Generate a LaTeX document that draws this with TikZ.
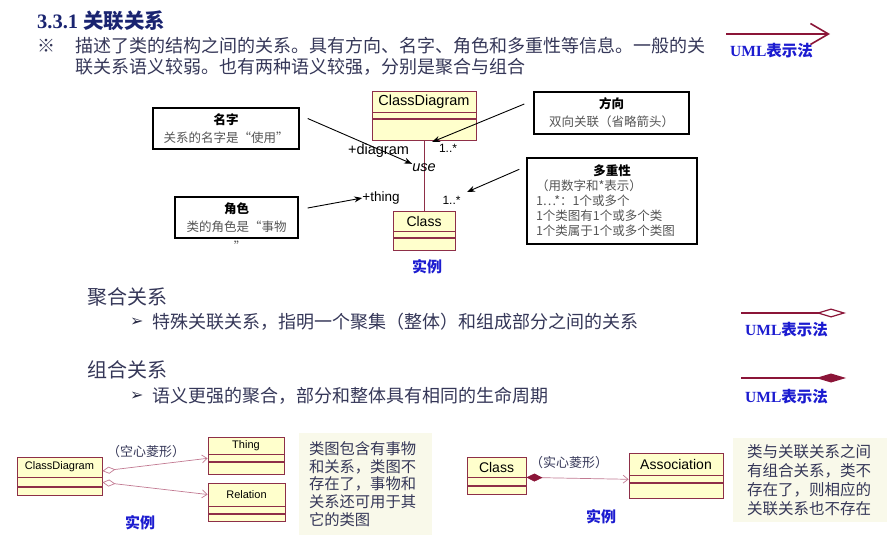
\documentclass[tikz,border=0pt]{standalone}
\usepackage{fontspec}
\setmainfont{Liberation Serif}
\setsansfont{Liberation Sans}
\newfontfamily\cjk{Noto Sans CJK SC}
\newfontfamily\sym{DejaVu Sans}
\usetikzlibrary{arrows.meta,positioning}

\definecolor{slideink}{HTML}{353758}
\definecolor{slidetitle}{HTML}{1A2470}
\definecolor{umlred}{HTML}{8E2F48}
\definecolor{umlpink}{HTML}{C27A92}
\definecolor{umlfill}{HTML}{FFFFCC}
\definecolor{notation}{HTML}{8B1538}
\definecolor{demoblue}{HTML}{1C1CD0}
\definecolor{memofill}{HTML}{F9F9EA}
\definecolor{notegrey}{HTML}{555555}

\begin{document}
\begin{tikzpicture}[
  x=1pt,y=-1pt,
  every node/.style={inner sep=0pt},
  body/.style={font=\cjk\fontsize{18}{21}\selectfont,text=slideink,anchor=west},
  subhead/.style={font=\cjk\fontsize{20}{22}\selectfont,text=slideink,anchor=west},
  bullet/.style={anchor=west,font=\sym\fontsize{16}{16}\selectfont,text=slideink!80!black},
  cname/.style={draw=umlred,fill=umlfill,line width=.8pt},
  cpart/.style={draw=umlred,fill=umlfill,line width=.8pt,anchor=north},
  note/.style={draw=black,line width=1.4pt,fill=white,align=center,
               text=notegrey,font=\cjk\fontsize{12.5}{18}\selectfont},
  pointer/.style={-{Stealth[length=8pt,width=6pt]},line width=.9pt},
  tag/.style={font=\sffamily\fontsize{14.5}{15}\selectfont},
  demo/.style={font=\cjk\bfseries\fontsize{15}{15}\selectfont,text=demoblue},
  hint/.style={anchor=west,text=demoblue,font=\bfseries\fontsize{15.5}{16}\selectfont},
  memo/.style={fill=memofill,align=left,text=slideink},
  gloss/.style={font=\cjk\fontsize{13}{13}\selectfont,text=slideink}
]
  \path[use as bounding box] (0,0) rectangle (894,548);

  % heading and introduction
  \node[anchor=west,text=slidetitle,font=\bfseries\fontsize{20.5}{22}\selectfont]
    (title) at (37,21) {3.3.1 {\cjk 关联关系}};
  \node[body] (mark) at (37,46) {※};
  \node[body] (intro1) at (75,46) {描述了类的结构之间的关系。具有方向、名字、角色和多重性等信息。一般的关};
  \node[body] (intro2) at (75,67) {联关系语义较弱。也有两种语义较强，分别是聚合与组合};

  \coordinate (assoc-from) at (726,34);
  \coordinate (assoc-to) at (830,34);
  \draw[notation,line width=1.6pt,-{Straight Barb[length=18pt,width=21pt]}]
    (assoc-from) -- (assoc-to);
  \node[hint] (hint-assoc) at (730,51) {UML{\cjk 表示法}};

  % class boxes: name, attributes, operations
  \foreach \id/\x/\y/\w/\hn/\ha/\ho/\fs/\txt in {
      cd/424/101.5/104/21/6/21/14.5/ClassDiagram,
      cls/424/221/62/20/6/12/14/Class,
      cdb/59.5/467/85/20/9/8/11/ClassDiagram,
      thing/246/445.5/76/17/7/12/11/Thing,
      rel/246.5/494.5/77/23/7/7/11/Relation,
      clsb/496.5/467/59/20/8/8/14/Class,
      assoc/676/464/94/22/7/15/14/Association}{
    \node[cname,minimum width=\w pt,minimum height=\hn pt,
          font=\sffamily\fontsize{\fs}{\fs}\selectfont] (\id) at (\x,\y) {\txt};
    \node[cpart,minimum width=\w pt,minimum height=\ha pt] (\id-attr) at (\id.south) {};
    \node[cpart,minimum width=\w pt,minimum height=\ho pt] (\id-ops) at (\id-attr.south) {};
  }

  % association example
  \draw[umlred,line width=.8pt] (cd-ops.south) -- (cls.north);
  \node[tag] (diag-tag) at (378.5,151) {+diagram};
  \node[font=\sffamily\itshape\fontsize{14.5}{15}\selectfont] (use-tag) at (424,168) {use};
  \node[font=\sffamily\fontsize{12}{12}\selectfont] (mult-top) at (448,148) {1..*};
  \node[font=\sffamily\fontsize{13.5}{14}\selectfont] (thing-tag) at (381,198) {+thing};
  \node[font=\sffamily\fontsize{12}{12}\selectfont] (mult-bot) at (451.5,200) {1..*};
  \node[demo] (demo-top) at (427,267) {实例};

  \node[note,minimum width=146pt,minimum height=41pt] (name-note) at (226,128.5)
    {{\bfseries\color{black}名字}\\关系的名字是“使用”};
  \node[note,minimum width=123pt,minimum height=41pt] (role-note) at (236.5,217.5)
    {{\bfseries\color{black}角色}\\类的角色是“事物};
  \node[text=notegrey,font=\cjk\fontsize{12.5}{12.5}\selectfont] (role-quote) at (240,246) {”};
  \node[note,minimum width=155pt,minimum height=42pt] (dir-note) at (611.5,113)
    {{\bfseries\color{black}方向}\\双向关联（省略箭头）};
  \node[note,minimum width=170pt,minimum height=86pt,align=left,text width=152pt,
        font=\cjk\fontsize{12.5}{15}\selectfont] (mult-note) at (612,201)
    {\makebox[152pt]{\bfseries\color{black}多重性}\\（用数字和*表示）\\1…*：1个或多个\\
     1个类图有1个或多个类\\1个类属于1个或多个类图};

  \coordinate (dir-tip) at (432,142);
  \coordinate (mult-tip) at (467,192);
  \draw[pointer] ([xshift=8pt,yshift=10pt]name-note.east) -- (use-tag.north west);
  \draw[pointer] ([xshift=-9pt,yshift=9pt]dir-note.west) -- (dir-tip);
  \draw[pointer] ([xshift=-7pt,yshift=-12pt]mult-note.north west) -- (mult-tip);
  \draw[pointer] ([xshift=9pt,yshift=9.5pt]role-note.east) -- (thing-tag.west);

  % aggregation and composition
  \node[subhead] (agg-head) at (87,297) {聚合关系};
  \node[bullet] (agg-bullet) at (130,322) {➢};
  \node[body] (agg-text) at (152,322) {特殊关联关系，指明一个聚集（整体）和组成部分之间的关系};
  \coordinate (agg-from) at (741,313);
  \coordinate (agg-to) at (846,313);
  \draw[notation,line width=2.2pt,-{Diamond[open,length=30pt,width=9pt,line width=1.2pt]}]
    (agg-from) -- (agg-to);
  \node[hint] (hint-agg) at (745,330) {UML{\cjk 表示法}};

  \node[subhead] (comp-head) at (87,370) {组合关系};
  \node[bullet] (comp-bullet) at (130,396) {➢};
  \node[body] (comp-text) at (152,396) {语义更强的聚合，部分和整体具有相同的生命周期};
  \coordinate (comp-from) at (741,378);
  \coordinate (comp-to) at (846,378);
  \draw[notation,line width=2.2pt,-{Diamond[length=30pt,width=9pt]}]
    (comp-from) -- (comp-to);
  \node[hint] (hint-comp) at (745,397) {UML{\cjk 表示法}};

  % bottom examples
  \draw[umlpink,line width=.7pt,{Diamond[open,length=13pt,width=7pt]}-{Straight Barb[length=5pt,width=8pt]}]
    ([yshift=-4pt]cdb.east) -- (thing-attr.west);
  \draw[umlpink,line width=.7pt,{Diamond[open,length=13pt,width=7pt]}-{Straight Barb[length=5pt,width=8pt]}]
    (cdb-attr.east) -- (rel.west);
  \node[gloss] (agg-gloss) at (146,452) {（空心菱形）};
  \node[demo] (demo-agg) at (140,523) {实例};
  \node[memo,minimum width=133pt,minimum height=102pt,text width=113pt,
        font=\cjk\fontsize{15.3}{17.7}\selectfont] (agg-memo) at (365.5,484)
    {类图包含有事物\\和关系，类图不\\存在了，事物和\\关系还可用于其\\它的类图};

  \draw[umlpink,line width=.7pt,{Diamond[length=16pt,width=8pt,color=notation,fill=notation]}-{Straight Barb[length=5pt,width=8pt]}]
    (clsb.south east) -- (assoc-attr.west);
  \node[gloss] (comp-gloss) at (569,463) {（实心菱形）};
  \node[demo] (demo-comp) at (601,517) {实例};
  \node[memo,minimum width=154pt,minimum height=84pt,text width=126pt,
        font=\cjk\fontsize{15.5}{19}\selectfont] (comp-memo) at (810,480)
    {类与关联关系之间\\有组合关系，类不\\存在了，则相应的\\关联关系也不存在};
\end{tikzpicture}
\end{document}
